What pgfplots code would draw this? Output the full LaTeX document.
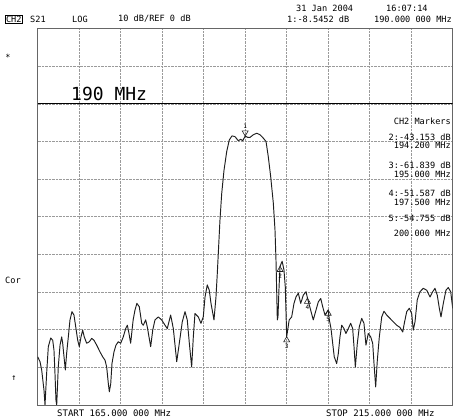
\documentclass[border=0pt]{standalone}
\usepackage{pgfplots}
\pgfplotsset{compat=1.18}
\usepackage{fontspec}
\setmainfont{DejaVu Sans Mono}
\newcommand{\fs}{\fontsize{8.6}{9}\selectfont}
\newcommand{\ff}{\fontsize{9}{9}\selectfont}
\newcommand{\fm}{\fontsize{6}{6}\selectfont}
\definecolor{trace}{HTML}{1E1E1E}
\definecolor{gridc}{HTML}{9A9A9A}
\begin{document}
\begin{tikzpicture}[x=1pt,y=1pt]
\useasboundingbox (0,0) rectangle (456,418);
\begin{axis}[at={(37.7pt,13pt)}, anchor=south west, scale only axis,
  width=415pt, height=376.4pt,
  xmin=165, xmax=215, ymin=-80, ymax=20,
  xtick={165,170,...,215}, ytick={-80,-70,...,20},
  xticklabels={}, yticklabels={}, major tick length=0pt,
  grid=major, major grid style={gridc, densely dotted, line width=0.7pt},
  axis line style={gray!80!black, line width=0.7pt},
]
\addplot[black, line width=1.1pt] coordinates {(165,0) (215,0)};
\addplot[trace, line width=0.95pt, line join=round] coordinates {
(165.0,-67.2) (165.28,-68.5) (165.48,-70.7) (165.76,-76.1) (165.88,-80) (166.08,-71.5) (166.28,-64.5) (166.57,-62.2) (166.81,-62.8) (166.96,-65.4) (167.08,-71.5) (167.2,-78.7) (167.29,-80) (167.48,-69.9) (167.69,-64.1) (167.89,-61.9) (168.01,-63.6) (168.17,-67.2) (168.33,-70.7) (168.49,-66.2) (168.69,-61.9) (168.89,-57.4) (169.13,-55.2) (169.37,-56.1) (169.58,-59.2) (169.82,-62.8) (170.01,-64.5) (170.22,-61.9) (170.42,-60.1) (170.61,-61.9) (170.9,-63.6) (171.22,-63.2) (171.51,-62.3) (171.78,-62.8) (172.11,-64.1) (172.51,-65.9) (172.83,-67.2) (173.11,-68.1) (173.31,-69.9) (173.51,-74.3) (173.63,-76.5) (173.8,-74.3) (173.95,-69.0) (174.19,-65.9) (174.43,-64.1) (174.71,-63.2) (175.0,-63.6) (175.31,-61.9) (175.6,-59.7) (175.8,-58.8) (176.0,-61.0) (176.2,-63.6) (176.5,-57.4) (176.72,-54.8) (176.95,-53.0) (177.24,-53.9) (177.53,-58.3) (177.72,-58.8) (178.01,-57.4) (178.2,-59.2) (178.61,-64.5) (178.86,-60.1) (179.13,-57.4) (179.53,-56.6) (179.94,-57.4) (180.34,-58.8) (180.61,-59.7) (181.02,-56.1) (181.34,-59.7) (181.75,-68.5) (182.06,-63.6) (182.42,-57.9) (182.75,-55.2) (183.02,-57.4) (183.27,-63.6) (183.55,-69.9) (183.75,-61.9) (183.95,-55.7) (184.35,-56.6) (184.67,-58.3) (184.95,-56.6) (185.16,-51.3) (185.43,-48.1) (185.67,-49.5) (185.88,-53.0) (186.24,-57.4) (186.48,-51.3) (186.64,-45.0) (186.76,-39.7) (186.96,-30.9) (187.17,-23.8) (187.45,-17.6) (187.77,-12.7) (188.08,-9.6) (188.41,-8.5) (188.77,-8.7) (189.17,-9.8) (189.46,-9.4) (189.7,-9.8) (190.0,-8.55) (190.3,-8.9) (190.58,-8.9) (190.98,-8.2) (191.39,-7.8) (191.78,-8.2) (192.18,-9.1) (192.51,-10.0) (192.78,-14.0) (193.07,-19.3) (193.39,-26.4) (193.59,-33.5) (193.71,-41.5) (193.8,-50.3) (193.87,-57.4) (193.95,-56.6) (194.08,-48.6) (194.2,-43.15) (194.45,-41.8) (194.67,-44.1) (194.83,-48.6) (195.0,-61.84) (195.3,-57.4) (195.6,-56.6) (195.88,-53.0) (196.12,-51.3) (196.4,-50.3) (196.69,-53.0) (197.0,-50.8) (197.33,-49.9) (197.5,-51.59) (197.89,-54.8) (198.2,-57.4) (198.53,-54.8) (198.81,-52.6) (199.1,-51.7) (199.34,-53.9) (199.61,-56.1) (200.0,-54.76) (200.14,-57.4) (200.34,-59.7) (200.54,-63.6) (200.73,-67.2) (201.02,-69.0) (201.22,-66.3) (201.42,-61.9) (201.63,-58.8) (201.9,-59.7) (202.14,-61.0) (202.42,-59.7) (202.71,-58.3) (202.95,-59.7) (203.11,-64.5) (203.27,-69.9) (203.51,-63.6) (203.75,-59.2) (204.04,-57.0) (204.31,-58.3) (204.55,-64.1) (204.83,-61.0) (205.12,-61.9) (205.36,-63.6) (205.52,-69.0) (205.72,-75.2) (205.92,-68.1) (206.16,-61.9) (206.45,-56.6) (206.72,-55.1) (207.05,-56.1) (207.45,-57.0) (207.84,-57.9) (208.25,-58.8) (208.65,-59.4) (208.98,-60.6) (209.17,-58.3) (209.46,-55.2) (209.77,-54.3) (210.06,-55.7) (210.25,-60.1) (210.46,-57.9) (210.73,-52.1) (211.06,-49.9) (211.46,-49.0) (211.87,-49.5) (212.27,-51.3) (212.59,-49.9) (212.87,-49.0) (213.14,-50.8) (213.39,-54.3) (213.59,-56.6) (213.87,-53.0) (214.19,-49.5) (214.47,-48.8) (214.76,-49.9) (215.0,-54.3)
};
% active marker 1 (downward triangle above trace)
\addplot[only marks, trace, mark=triangle, mark size=3.5pt, mark options={yshift=3.5pt, rotate=180, fill=white, line width=0.6pt}] coordinates {(190.0,-8.55)};
\addplot[only marks, trace, mark=text, text mark={\fm 1}, mark options={yshift=10pt}] coordinates {(190.0,-8.55)};
% inactive markers 2-5 (upward triangles below trace)
\addplot[only marks, trace, mark=triangle, mark size=3.5pt, mark options={yshift=-3.5pt, fill=white, line width=0.6pt}] coordinates {(194.2,-43.15) (195.0,-61.84) (197.5,-51.59) (200.0,-54.76)};
\addplot[only marks, trace, mark=text, text mark={\fm 2}, mark options={yshift=-9.5pt}] coordinates {(194.2,-43.15)};
\addplot[only marks, trace, mark=text, text mark={\fm 3}, mark options={yshift=-9.5pt}] coordinates {(195.0,-61.84)};
\addplot[only marks, trace, mark=text, text mark={\fm 4}, mark options={yshift=-9.5pt}] coordinates {(197.5,-51.59)};
\addplot[only marks, trace, mark=text, text mark={\fm 5}, mark options={yshift=-9.5pt}] coordinates {(200.0,-54.76)};
\end{axis}
% header
\node[anchor=west, font=\fs, inner sep=0pt] at (296,410) {31 Jan 2004};
\node[anchor=west, font=\fs, inner sep=0pt] at (386,410) {16:07:14};
\node[anchor=west, font=\fs, draw, line width=0.5pt, inner sep=0.8pt] at (5,399) {CH2};
\node[anchor=west, font=\fs, inner sep=0pt] at (30,399) {S21};
\node[anchor=west, font=\fs, inner sep=0pt] at (72,399) {LOG};
\node[anchor=west, font=\fs, inner sep=0pt] at (118,399) {10 dB/REF 0 dB};
\node[anchor=west, font=\fs, inner sep=0pt] at (287,399) {1:-8.5452 dB};
\node[anchor=east, font=\fs, inner sep=0pt] at (452,399) {190.000 000 MHz};
% left annotations
\node[anchor=center, font=\fs, inner sep=0pt] at (8,361) {*};
\node[anchor=west, font=\fs, inner sep=0pt] at (5,138) {Cor};
\node[anchor=center, font=\fs, inner sep=0pt] at (14,40) {↑};
% reference label
\node[anchor=west, font=\fontsize{18}{18}\selectfont, inner sep=0pt] at (71,324) {190 MHz};
% marker table
\node[anchor=east, font=\fs, inner sep=0pt] at (451,297) {CH2 Markers};
\node[anchor=east, font=\fs, inner sep=0pt] at (451,281) {2:-43.153 dB};
\node[anchor=east, font=\fs, inner sep=0pt] at (451,272.5) {194.200 MHz};
\node[anchor=east, font=\fs, inner sep=0pt] at (451,252.5) {3:-61.839 dB};
\node[anchor=east, font=\fs, inner sep=0pt] at (451,244) {195.000 MHz};
\node[anchor=east, font=\fs, inner sep=0pt] at (451,224.5) {4:-51.587 dB};
\node[anchor=east, font=\fs, inner sep=0pt] at (451,216) {197.500 MHz};
\node[anchor=east, font=\fs, inner sep=0pt] at (451,200) {5:-54.755 dB};
\node[anchor=east, font=\fs, inner sep=0pt] at (451,185) {200.000 MHz};
% footer
\node[anchor=west, font=\ff, inner sep=0pt] at (57,5) {START 165.000 000 MHz};
\node[anchor=west, font=\ff, inner sep=0pt] at (326,5) {STOP 215.000 000 MHz};
\end{tikzpicture}
\end{document}
